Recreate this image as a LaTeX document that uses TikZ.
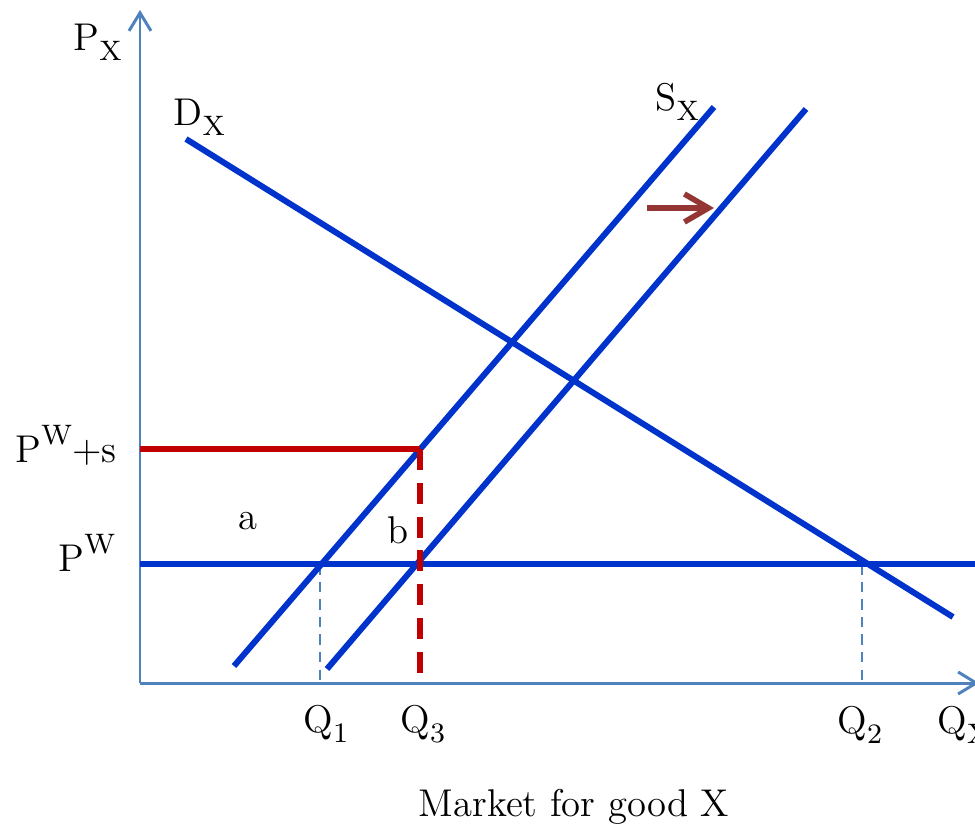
\documentclass[tikz,border=0pt]{standalone}
\usepackage{xcolor}
\usetikzlibrary{arrows.meta}
\definecolor{axisblue}{RGB}{79,129,189}
\definecolor{curveblue}{RGB}{0,51,204}
\definecolor{subred}{RGB}{192,0,0}
\definecolor{shiftbrown}{RGB}{148,54,52}
\newcommand{\lowtext}[1]{\raisebox{-0.28em}{\fontsize{8}{8}\selectfont #1}}
\newcommand{\hightext}[1]{\raisebox{0.45em}{\fontsize{8}{8}\selectfont #1}}

\begin{document}
\begin{tikzpicture}[
    x=0.01cm, y=-0.01cm,
    axis/.style={axisblue, line width=0.85pt, -{Straight Barb[length=1.8mm,width=2.2mm]}},
    curve/.style={curveblue, line width=1.7pt},
    guide/.style={axisblue, line width=0.55pt, dash pattern=on 3pt off 2pt},
    subsidy/.style={subred, line width=1.7pt},
    shiftarr/.style={shiftbrown, line width=1.6pt, -{Straight Barb[length=2.4mm,width=2.8mm]}},
    lbl/.style={font=\fontsize{11}{13}\selectfont, inner sep=0pt, anchor=base west}
  ]
  \useasboundingbox (0,0) rectangle (975,833);
  \clip (0,0) rectangle (975,833);

  \coordinate (origin) at (140,683);
  \coordinate (ytop) at (140,10);
  \coordinate (xend) at (979,683);
  \draw[axis] (origin) -- (ytop);
  \draw[axis] (origin) -- (xend);

  % curves
  \coordinate (d1) at (186,139);
  \coordinate (d2) at (953,617);
  \coordinate (s1a) at (234,666);
  \coordinate (s1b) at (714,107);
  \coordinate (s2a) at (327,669);
  \coordinate (s2b) at (806,109);
  \coordinate (pw) at (140,564);
  \coordinate (pwend) at (980,564);
  \coordinate (pws) at (140,449);
  \coordinate (c3) at (420,449);
  \coordinate (q1top) at (320,564);
  \coordinate (q1) at (320,683);
  \coordinate (q2top) at (862,564);
  \coordinate (q2) at (862,683);
  \coordinate (q3) at (420,678);

  \draw[guide] (q1top) -- (q1);
  \draw[guide] (q2top) -- (q2);
  \draw[curve] (d1) -- (d2);
  \draw[curve] (s1a) -- (s1b);
  \draw[curve] (s2a) -- (s2b);
  \draw[curve] (pw) -- (pwend);
  \draw[subsidy] (pws) -- (c3);
  \draw[subsidy, dash pattern=on 6pt off 3.6pt] (c3) -- (q3);

  \coordinate (arrstart) at (647,208);
  \coordinate (arrend) at (714,208);
  \draw[shiftarr] (arrstart) -- (arrend);

  % labels
  \node[lbl] (px) at (73,50) {P\lowtext{X}};
  \node[lbl] (dx) at (173,125) {D\lowtext{X}};
  \node[lbl] (sx) at (655,110) {S\lowtext{X}};
  \node[lbl] (pwslbl) at (15,462) {P\hightext{W}+s};
  \node[lbl] (pwlbl) at (58,571) {P\hightext{W}};
  \node[lbl] (alb) at (238,529) {a};
  \node[lbl] (blb) at (387,543) {b};
  \node[lbl] (q1lbl) at (303,732) {Q\lowtext{1}};
  \node[lbl] (q3lbl) at (400,732) {Q\lowtext{3}};
  \node[lbl] (q2lbl) at (837,733) {Q\lowtext{2}};
  \node[lbl] (qxlbl) at (937,733) {Q\lowtext{X}};
  \node[lbl] (title) at (418,816) {Market for good X};
\end{tikzpicture}
\end{document}
